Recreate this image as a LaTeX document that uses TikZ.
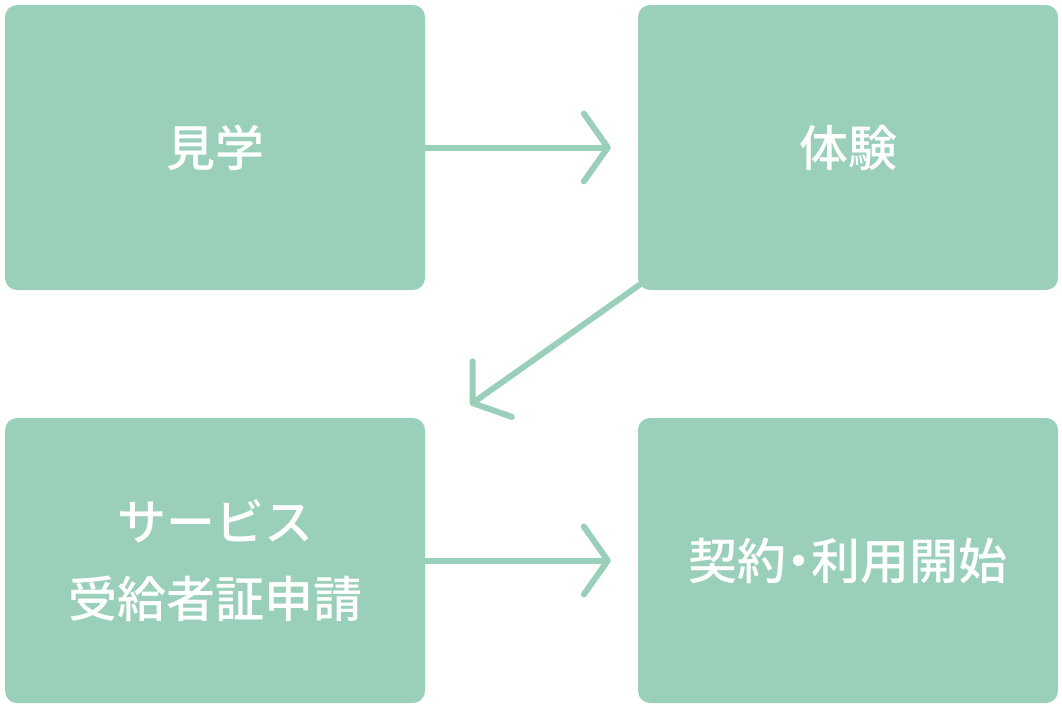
\documentclass[tikz,border=0pt]{standalone}
\usepackage{fontspec}
\newfontfamily\jpfont{Noto Sans CJK JP Medium}
\usetikzlibrary{arrows.meta}
\definecolor{stepgreen}{HTML}{9AD0B9}
\begin{document}
\begin{tikzpicture}[x=1pt,y=-1pt,
		stepbox/.style={rounded corners=12pt,fill=stepgreen,minimum width=420pt,minimum height=285pt,inner sep=0pt,text=white,align=center,font=\jpfont\fontsize{49}{77}\selectfont},
		flow/.style={line width=6pt,draw=stepgreen,line cap=round,-{Straight Barb[length=24pt,width=68pt,line cap=round,line join=round]}}]
	\useasboundingbox (0,0) rectangle (1062,707);
	\node[stepbox] (visit) at (215,147.5) {見学};
	\node[stepbox] (trial) at (848,147.5) {体験};
	\node[stepbox] (apply) at (215,560.5) {サービス\\受給者証申請};
	\node[stepbox] (start) at (848,560.5) {契約\makebox[0.5em]{・}利用開始};
	\draw[flow,shorten >=27pt] (visit.east) -- (trial.west);
	\draw[flow] ([shift={(4pt,7pt)}]trial.south west) -- ([shift={(45pt,13pt)}]apply.north east);
	\draw[flow,shorten >=27pt] (apply.east) -- (start.west);
\end{tikzpicture}
\end{document}
